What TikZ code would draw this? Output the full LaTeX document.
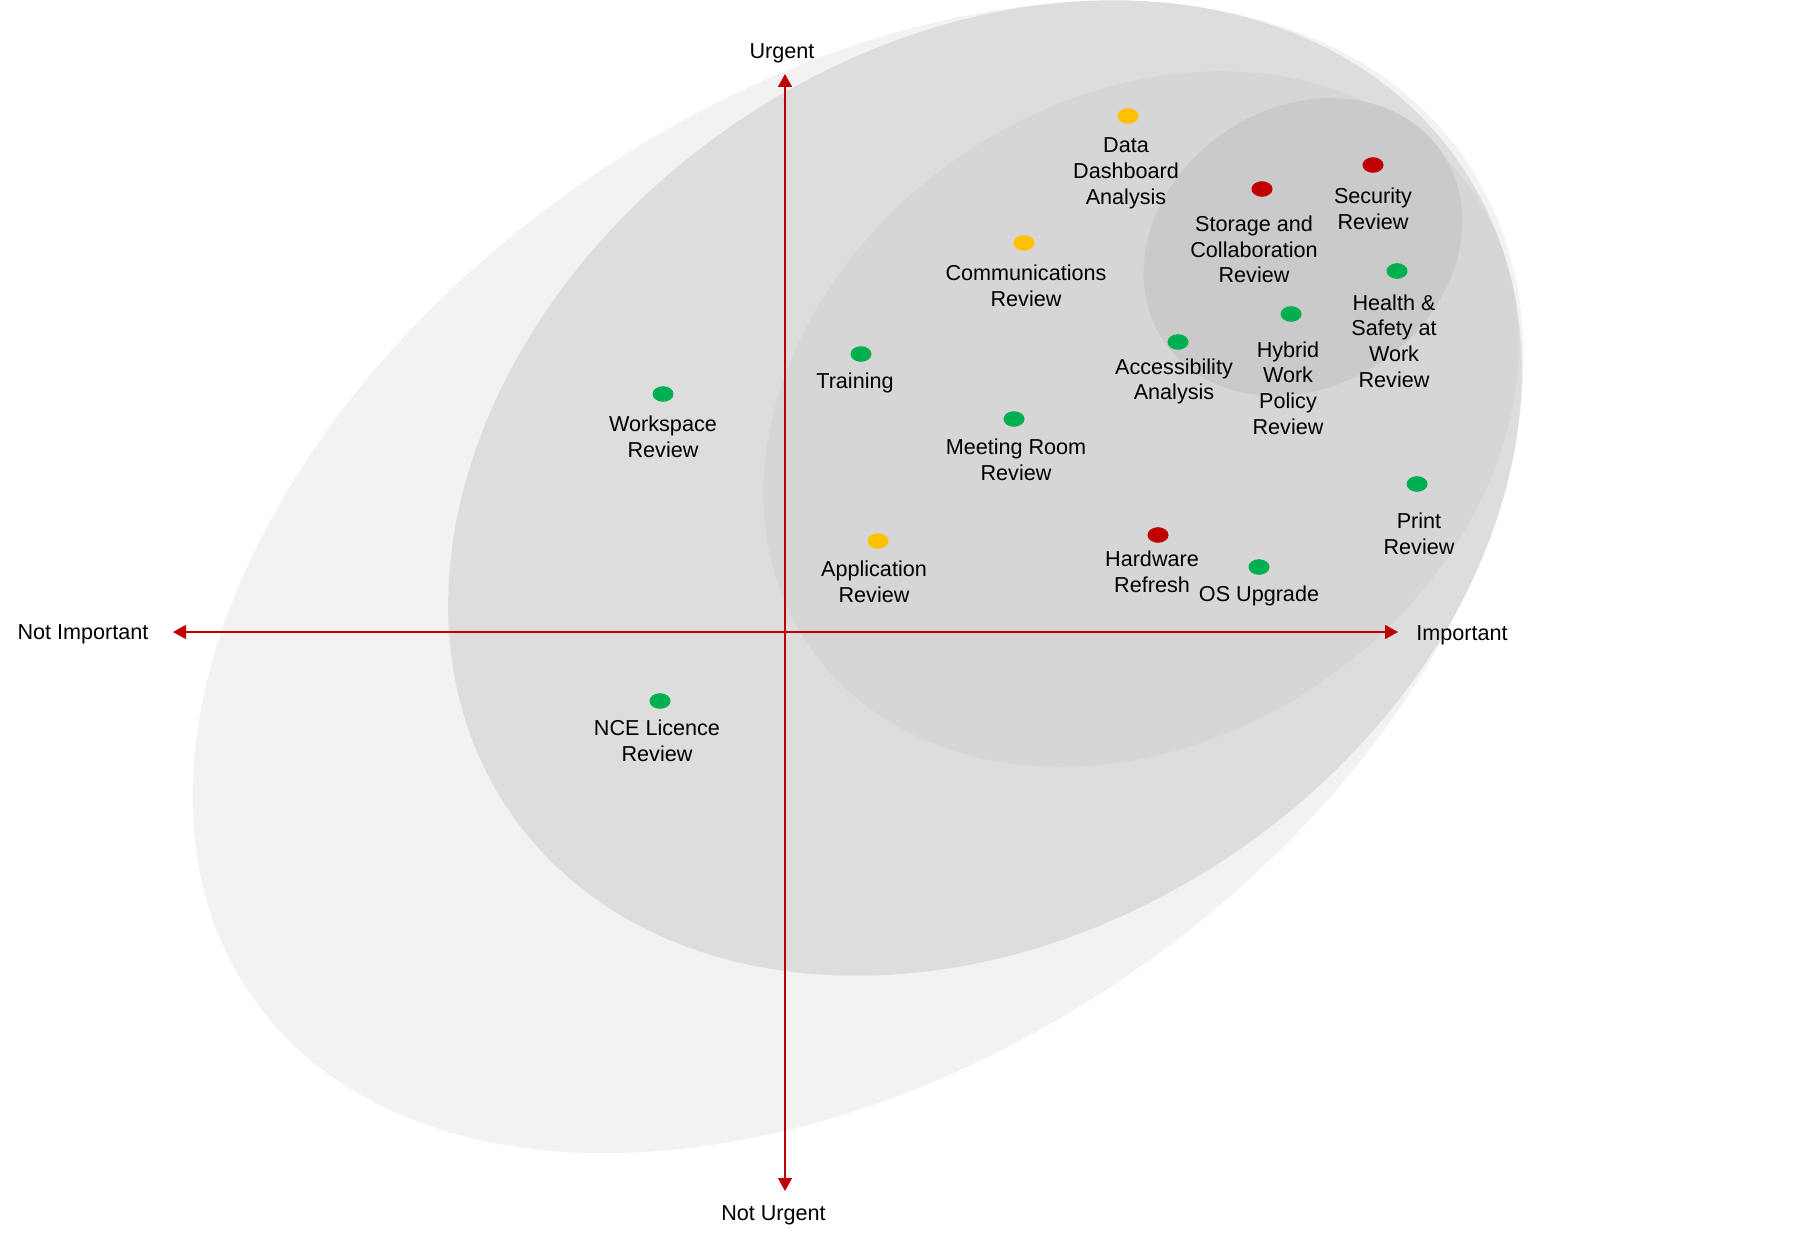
\documentclass[tikz,border=0pt]{standalone}
\usepackage{fontspec}
\setmainfont{Liberation Sans}
\usetikzlibrary{arrows.meta,shapes.geometric}
\definecolor{ringA}{HTML}{F2F2F2}
\definecolor{ringB}{HTML}{DDDDDD}
\definecolor{ringC}{HTML}{D6D6D6}
\definecolor{ringD}{HTML}{CACACA}
\definecolor{axisred}{HTML}{C00000}
\definecolor{dotred}{HTML}{C00000}
\definecolor{dotamber}{HTML}{FFC000}
\definecolor{dotgreen}{HTML}{00B050}
\begin{document}
\begin{tikzpicture}[x=0.5pt,y=-0.5pt,
  lbl/.style={font=\fontsize{10.8}{12.85}\selectfont, align=center, inner sep=0pt, text=black},
  dot/.style={ellipse, minimum width=10.5pt, minimum height=7.8pt, inner sep=0pt, draw=none},
  gdot/.style={dot, fill=dotgreen},
  ydot/.style={dot, fill=dotamber},
  rdot/.style={dot, fill=dotred},
  axisline/.style={draw=axisred, line width=0.75pt, {Triangle[length=6.5pt,width=7pt]}-{Triangle[length=6.5pt,width=7pt]}}
]
\useasboundingbox (0,0) rectangle (1797,1241);
\fill[white] (0,0) rectangle (1797,1241);
% nested rings
\fill[ringA, rotate around={34.6:(858,577)}] (858,577) ellipse [x radius=737, y radius=481];
\fill[ringB, rotate around={34.1:(985,488)}] (985,488) ellipse [x radius=575, y radius=442];
\fill[ringC, rotate around={34.4:(1141,419)}] (1141,419) ellipse [x radius=402, y radius=319];
\fill[ringD, rotate around={34.3:(1303,247)}] (1303,247) ellipse [x radius=168, y radius=139];
% axes
\coordinate (ytop) at (785,74);
\coordinate (ybot) at (785,1191);
\coordinate (xleft) at (173,632);
\coordinate (xright) at (1398,632);
\draw[axisline] (ybot) -- (ytop);
\draw[axisline] (xleft) -- (xright);
\node[lbl] (urgent) at (782,53) {Urgent};
\node[lbl] (noturgent) at (773.5,1215) {Not Urgent};
\node[lbl] (notimp) at (83,634) {Not Important};
\node[lbl] (imp) at (1462,635) {Important};
% items
\node[ydot] (dData) at (1128,116) {};
\node[lbl] (tData) at (1126,173.5) {Data\\Dashboard\\Analysis};
\node[ydot] (dComm) at (1024,243) {};
\node[lbl] (tComm) at (1026,286) {Communications\\Review};
\node[rdot] (dStor) at (1262,189) {};
\node[lbl] (tStor) at (1254,249.5) {Storage and\\Collaboration\\Review};
\node[rdot] (dSec) at (1373,165) {};
\node[lbl] (tSec) at (1373,209) {Security\\Review};
\node[gdot] (dHealth) at (1397,271) {};
\node[lbl] (tHealth) at (1394,341) {Health \&\\Safety at\\Work\\Review};
\node[gdot] (dHyb) at (1291,314) {};
\node[lbl] (tHyb) at (1288,388) {Hybrid\\Work\\Policy\\Review};
\node[gdot] (dAcc) at (1178,342) {};
\node[lbl] (tAcc) at (1174,381.5) {Accessibility\\Analysis};
\node[gdot] (dTrain) at (861,354) {};
\node[lbl] (tTrain) at (855,382.5) {Training};
\node[gdot] (dWork) at (663,394) {};
\node[lbl] (tWork) at (663,437) {Workspace\\Review};
\node[gdot] (dMeet) at (1014,419) {};
\node[lbl] (tMeet) at (1016,460) {Meeting Room\\Review};
\node[gdot] (dPrint) at (1417,484) {};
\node[lbl] (tPrint) at (1419,534) {Print\\Review};
\node[ydot] (dApp) at (878,541) {};
\node[lbl] (tApp) at (874,581.5) {Application\\Review};
\node[rdot] (dHard) at (1158,535) {};
\node[lbl] (tHard) at (1152,571.5) {Hardware\\Refresh};
\node[gdot] (dOS) at (1259,567) {};
\node[lbl] (tOS) at (1259,595.5) {OS Upgrade};
\node[gdot] (dNCE) at (660,701) {};
\node[lbl] (tNCE) at (657,741) {NCE Licence\\Review};
\end{tikzpicture}
\end{document}
